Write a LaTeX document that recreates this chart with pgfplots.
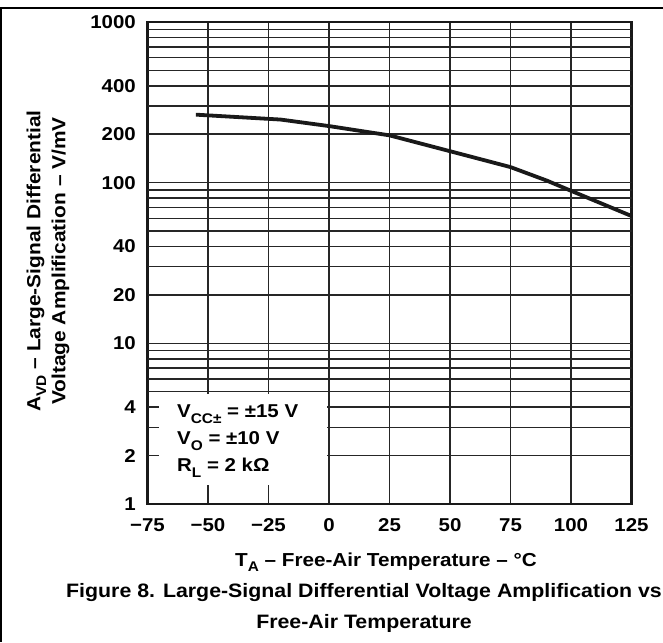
\documentclass[border=0pt]{standalone}
\usepackage{pgfplots}
\pgfplotsset{compat=1.18}
\usepackage{fontspec}
\setmainfont[FakeStretch=1.1]{Liberation Sans}
\newcommand\sub[1]{\raisebox{-0.3em}{\fontsize{14}{14}\selectfont #1}}
\begin{document}
\begin{tikzpicture}[x=1pt,y=1pt]
\useasboundingbox (0,0) rectangle (663,642);
\draw[line width=2pt] (0,634) -- (663,634);
\draw[line width=2pt] (1,634) -- (1,0);
\begin{axis}[
  at={(147.5pt,138pt)}, anchor=south west,
  scale only axis, width=484pt, height=482pt,
  xmin=-75, xmax=125, ymin=1, ymax=1000, ymode=log,
  xtick={-75,-50,-25,0,25,50,75,100,125},
  xticklabels={−75,−50,−25,0,25,50,75,100,125},
  ytick={1,2,4,10,20,40,100,200,400,1000},
  yticklabels={1,2,4,10,20,40,100,200,400,1000},
  xmajorgrids=true, ymajorgrids=false,
  major grid style={line width=1.6pt, black!85},
  axis line style={line width=2.8pt, black!90},
  major tick length=0pt,
  tick style={draw=none},
  ticklabel style={font=\fontsize{18.6}{20}\selectfont\bfseries, inner sep=0pt},
  xticklabel style={anchor=base, yshift=-27.5pt},
  yticklabel style={anchor=east, xshift=-11.5pt},
]
\pgfplotsinvokeforeach{2,3,4,5,6,7,8,9,10,20,30,40,50,60,70,80,90,100,200,300,400,500,600,700,800,900}{
  \draw[line width=1.6pt, black!85] (axis cs:-75,#1) -- (axis cs:125,#1);
}
\fill[white] (axis cs:-70.3,1.32) rectangle (axis cs:-0.7,4.83);
\addplot[line width=3.8pt, black!90, line join=round] coordinates {
  (-55,265) (-20,247) (0,225) (25,197) (55,150) (75,125) (90,103) (100,89) (125,62)
};
\end{axis}
\begin{scope}[font=\fontsize{18.6}{20}\selectfont\bfseries]
\node[anchor=base west, inner sep=0pt] at (177,224) {V\sub{CC±} = ±15 V};
\node[anchor=base west, inner sep=0pt] at (177,197) {V\sub{O} = ±10 V};
\node[anchor=base west, inner sep=0pt] at (177,170) {R\sub{L} = 2 kΩ};
\end{scope}
\begin{scope}[font=\fontsize{18.8}{20}\selectfont\bfseries]
\node[anchor=base, inner sep=0pt] at (386,76) {T\sub{A} – Free-Air Temperature – °C};
\node[rotate=90, align=center, inner sep=0pt, font=\fontsize{19}{25}\selectfont\bfseries] at (48,381) {A\sub{VD} – Large-Signal Differential\\Voltage Amplification – V/mV};
\end{scope}
\begin{scope}[font=\fontsize{19.4}{20}\selectfont\bfseries]
\node[inner sep=0pt, anchor=base] at (364,45) {Figure 8. Large-Signal Differential Voltage Amplification vs};
\node[inner sep=0pt, anchor=base] at (364,14) {Free-Air Temperature};
\end{scope}
\end{tikzpicture}
\end{document}
